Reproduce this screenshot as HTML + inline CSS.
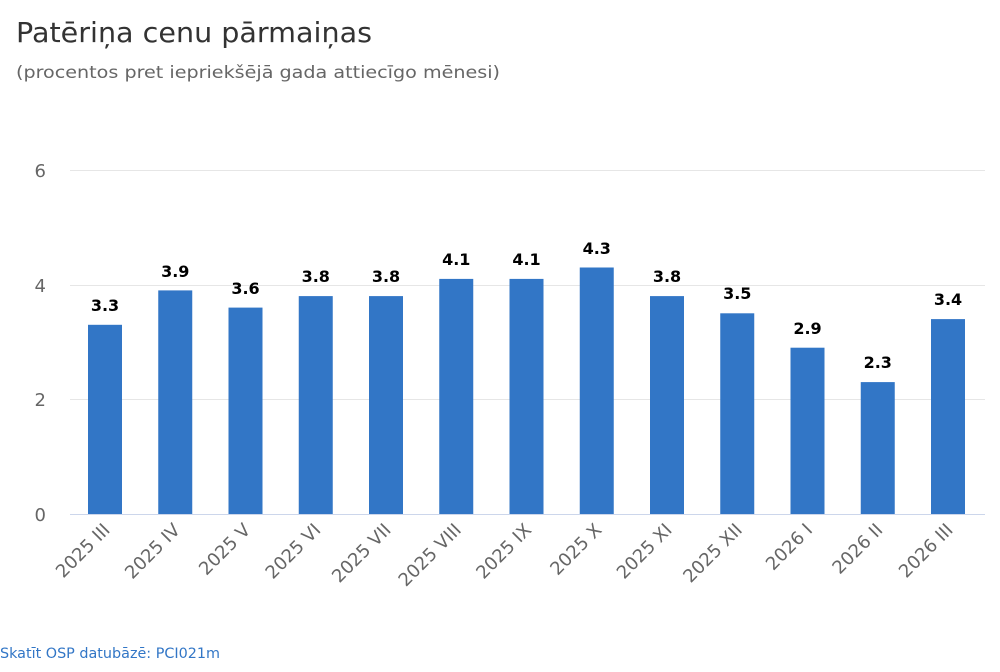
<!DOCTYPE html>
<html><head><meta charset="utf-8"><style>
body{margin:0;background:#fff;width:1000px;height:667px;overflow:hidden}
</style></head><body>
<svg width="1000" height="667" xmlns="http://www.w3.org/2000/svg" font-family="'DejaVu Sans','Liberation Sans',sans-serif">
<text x="16" y="42" font-size="28" fill="#333" textLength="356" lengthAdjust="spacingAndGlyphs">Patēriņa cenu pārmaiņas</text>
<text x="16" y="78" font-size="17" fill="#666" textLength="484" lengthAdjust="spacingAndGlyphs">(procentos pret iepriekšējā gada attiecīgo mēnesi)</text>
<g stroke="#e6e6e6" stroke-width="1">
<line x1="70" x2="985" y1="170.5" y2="170.5"/>
<line x1="70" x2="985" y1="285.5" y2="285.5"/>
<line x1="70" x2="985" y1="399.5" y2="399.5"/>
</g>
<g font-size="18" fill="#666" text-anchor="end">
<text x="46" y="177">6</text><text x="46" y="292">4</text><text x="46" y="406">2</text><text x="46" y="521">0</text>
</g>
<g fill="#3276c6">
<rect x="88" y="324.8" width="34" height="189.2"/>
<rect x="158.25" y="290.4" width="34" height="223.6"/>
<rect x="228.5" y="307.6" width="34" height="206.4"/>
<rect x="298.75" y="296.1" width="34" height="217.9"/>
<rect x="369" y="296.1" width="34" height="217.9"/>
<rect x="439.25" y="278.9" width="34" height="235.1"/>
<rect x="509.5" y="278.9" width="34" height="235.1"/>
<rect x="579.75" y="267.5" width="34" height="246.5"/>
<rect x="650" y="296.1" width="34" height="217.9"/>
<rect x="720.25" y="313.3" width="34" height="200.7"/>
<rect x="790.5" y="347.7" width="34" height="166.3"/>
<rect x="860.75" y="382.1" width="34" height="131.9"/>
<rect x="931" y="319.1" width="34" height="194.9"/>
</g>
<line x1="70" x2="985" y1="514.5" y2="514.5" stroke="#ccd6eb"/>
<g font-size="16" font-weight="bold" fill="#000" text-anchor="middle">
<text x="105" y="311">3.3</text>
<text x="175.25" y="277">3.9</text>
<text x="245.5" y="294">3.6</text>
<text x="315.75" y="282">3.8</text>
<text x="386" y="282">3.8</text>
<text x="456.25" y="265">4.1</text>
<text x="526.5" y="265">4.1</text>
<text x="596.75" y="254">4.3</text>
<text x="667" y="282">3.8</text>
<text x="737.25" y="299">3.5</text>
<text x="807.5" y="334">2.9</text>
<text x="877.75" y="368">2.3</text>
<text x="948" y="305">3.4</text>
</g>
<g font-size="18" fill="#666" text-anchor="end">
<text transform="translate(111,531) rotate(-45)">2025 III</text>
<text transform="translate(181.25,531) rotate(-45)">2025 IV</text>
<text transform="translate(251.5,531) rotate(-45)">2025 V</text>
<text transform="translate(321.75,531) rotate(-45)">2025 VI</text>
<text transform="translate(392,531) rotate(-45)">2025 VII</text>
<text transform="translate(462.25,531) rotate(-45)">2025 VIII</text>
<text transform="translate(532.5,531) rotate(-45)">2025 IX</text>
<text transform="translate(602.75,531) rotate(-45)">2025 X</text>
<text transform="translate(673,531) rotate(-45)">2025 XI</text>
<text transform="translate(743.25,531) rotate(-45)">2025 XII</text>
<text transform="translate(813.5,531) rotate(-45)">2026 I</text>
<text transform="translate(883.75,531) rotate(-45)">2026 II</text>
<text transform="translate(954,531) rotate(-45)">2026 III</text>
</g>
<text x="0" y="658" font-size="14" fill="#3276c6" textLength="220" lengthAdjust="spacingAndGlyphs">Skatīt OSP datubāzē: PCI021m</text>
</svg>
</body></html>
